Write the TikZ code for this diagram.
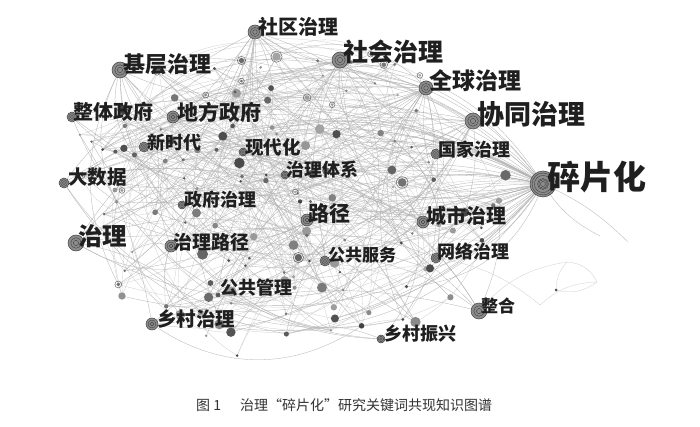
\documentclass[tikz,border=0pt]{standalone}
\usepackage{fontspec}
\newfontfamily\cjk{Noto Sans CJK SC}
\begin{document}
\begin{tikzpicture}[x=1pt,y=-1pt,
  edge/.style={draw=black!20, line width=0.28pt},
  hubedge/.style={draw=black!30, line width=0.3pt},
  lbl/.style={anchor=west, inner sep=0pt, text=black!88, font=\cjk\bfseries\fontsize{#1}{#1}\selectfont},
  capt/.style={anchor=west, inner sep=0pt, text=black!80, font=\cjk\fontsize{14}{14}\selectfont},
  ]
\useasboundingbox[fill=white] (0,0) rectangle (700,427);
\pgfmathsetseed{11}
% ---- background dots (named coordinates) ----
\foreach \i in {1,...,150}{
  \pgfmathsetmacro\ang{360*rnd}
  \pgfmathsetmacro\rad{sqrt(rnd)}
  \pgfmathsetmacro\px{282+232*\rad*cos(\ang)}
  \pgfmathsetmacro\py{200+160*\rad*sin(\ang)}
  \coordinate (d\i) at (\px,\py);
}
% ---- hub coordinates ----
\foreach \n/\x/\y in {spx/543/184, jc/120/70, sh/340/60, sq/255/32, qq/426/88, xt/473/121,
  gj/436/154, zt/72/117, df/173/117, xsd/144/147, xdh/243/152, zltx/285/175, dsj/64/183,
  zfzl/182/205, lj/307/220, zl/76/243, zllj/171/246, ggfw/325/261, cs/423/222, wl/436/258,
  gggl/218/295, xc/152/324, zh/479/311, xczx/381/339}
  \coordinate (\n) at (\x,\y);
% ---- stray coordinates on the right ----
\coordinate (r1) at (628,242);
\coordinate (r2) at (567,262);
\coordinate (r3) at (597,282);
\coordinate (r4) at (556,290);
\coordinate (r5) at (600,236);
\coordinate (r6) at (540,305);
% ---- edges between dots ----
\foreach \k in {1,...,230}{
  \pgfmathtruncatemacro\a{1+int(150*rnd)}
  \pgfmathtruncatemacro\c{1+int(150*rnd)}
  \pgfmathsetmacro\b{-50+100*rnd}
  \draw[edge] (d\a) to[bend left=\b] (d\c);
}
% ---- hub fans ----
\foreach \h/\m in {spx/55, qq/26, sq/18, xt/16, sh/16, jc/12, zl/10, df/6, xc/6, zh/6, cs/6, lj/6,
  zllj/5, dsj/5, zt/5, gj/5, wl/5, xsd/4, xdh/4, zltx/4, zfzl/4, ggfw/4, xczx/4, gggl/3}{
  \foreach \k in {1,...,\m}{
    \pgfmathtruncatemacro\t{1+int(150*rnd)}
    \pgfmathsetmacro\s{rnd<0.5 ? -1 : 1}
    \pgfmathsetmacro\b{\s*(8+28*rnd)}
    \draw[hubedge] (\h) to[bend left=\b] (d\t);
  }
}
\draw[hubedge] (spx) to[bend left=10] (r1);
\draw[hubedge] (spx) to[bend right=15] (r5);
\draw[edge] (zh) to[bend left=20] (r2);
\draw[edge] (r2) to[bend left=30] (r3);
\draw[edge] (r3) to[bend left=25] (r4);
\draw[edge] (r4) to[bend left=20] (r2);
\draw[edge] (wl) to[bend left=15] (r6);
\draw[edge] (r6) to[bend left=20] (r3);
\fill[black!70] (r4) circle (1.5);
% ---- dots ----
\foreach \i in {1,...,150}{
  \pgfmathsetmacro\r{1.3+4.2*rnd^3}
  \pgfmathtruncatemacro\g{35+40*rnd}
  \fill[black!\g] (d\i) circle (\r);
  \pgfmathtruncatemacro\md{mod(\i,9)}
  \ifnum\md=0 \draw[black!60, line width=0.5pt] (d\i) circle (\r+1.5); \fi
}
% ---- hub circles ----
\foreach \n/\r in {spx/13, jc/8, sh/8, sq/7, qq/7, xt/8, gj/5, zt/5, df/6, xsd/5, xdh/4, zltx/4,
  dsj/5, zfzl/4, lj/6, zl/8, zllj/6, ggfw/5, cs/6, wl/5, gggl/2, xc/6, zh/8, xczx/4}{
  \fill[black!45] (\n) circle (\r);
  \draw[black!75, line width=0.5pt] (\n) circle (\r);
  \draw[black!75, line width=0.4pt] (\n) circle (0.66*\r);
  \draw[black!75, line width=0.4pt] (\n) circle (0.33*\r);
}
\draw[black!75, line width=0.4pt] (spx) circle (11) (spx) circle (5.5) (spx) circle (2.5);
% ---- labels ----
\node[lbl=33] (tspx) at (547,177) {碎片化};
\node[lbl=22] (tjc) at (123,64) {基层治理};
\node[lbl=25] (tsh) at (343,52) {社会治理};
\node[lbl=20] (tsq) at (258,27) {社区治理};
\node[lbl=23] (tqq) at (429,81) {全球治理};
\node[lbl=27] (txt) at (477,114) {协同治理};
\node[lbl=18] (tgj) at (438,150) {国家治理};
\node[lbl=20] (tzt) at (73,112) {整体政府};
\node[lbl=21] (tdf) at (177,112) {地方政府};
\node[lbl=18] (txsd) at (147,143) {新时代};
\node[lbl=18.5] (txdh) at (245,147) {现代化};
\node[lbl=18] (tzltx) at (286,170) {治理体系};
\node[lbl=19.5] (tdsj) at (68,177) {大数据};
\node[lbl=18] (tzfzl) at (184,200) {政府治理};
\node[lbl=21] (tlj) at (308,214) {路径};
\node[lbl=24.5] (tzl) at (78,236) {治理};
\node[lbl=19] (tzllj) at (173,242) {治理路径};
\node[lbl=17] (tggfw) at (328,255) {公共服务};
\node[lbl=20] (tcs) at (426,216) {城市治理};
\node[lbl=18] (twl) at (437,252) {网络治理};
\node[lbl=18] (tgggl) at (220,288) {公共管理};
\node[lbl=19.5] (txc) at (157,319) {乡村治理};
\node[lbl=17] (tzh) at (481,306) {整合};
\node[lbl=18] (txczx) at (384,334) {乡村振兴};
% ---- caption ----
\node[capt] (capnum) at (196,405) {图 1};
\node[capt] (cap) at (240,405) {治理“碎片化”研究关键词共现知识图谱};
\end{tikzpicture}
\end{document}
